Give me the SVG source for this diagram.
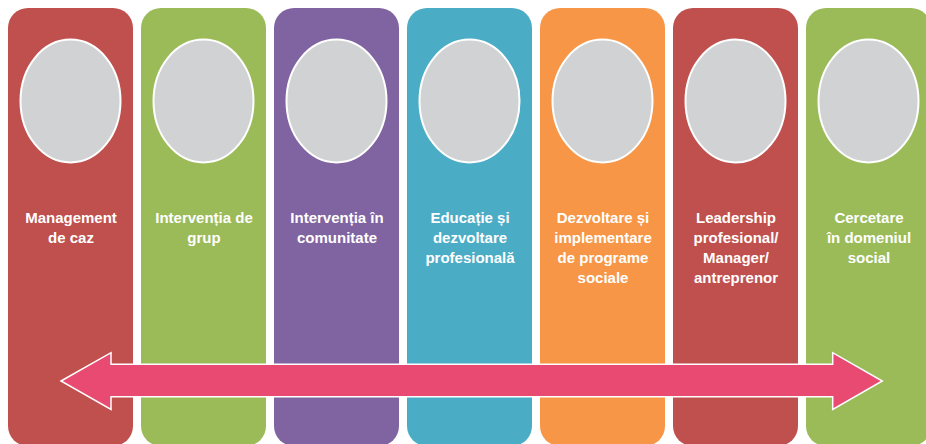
<svg xmlns="http://www.w3.org/2000/svg" width="926" height="444" viewBox="0 0 926 444">
<style>
.col{stroke:none}
.ph{fill:#D1D2D4;stroke:#FFFFFF;stroke-width:2}
.lbl{font-family:"Liberation Sans",Arial,sans-serif;font-weight:bold;font-size:15px;fill:#FFFFFF;text-anchor:middle}
</style>
<rect width="926" height="444" fill="#FFFFFF"/>
<g id="col1"><rect class="col" x="8" y="8" width="125" height="438" rx="20" fill="#C0504D"/><ellipse class="ph" cx="70.5" cy="101" rx="50" ry="61.5"/><text class="lbl" x="71" y="223">Management</text><text class="lbl" x="71" y="243">de caz</text></g>
<g id="col2"><rect class="col" x="141" y="8" width="125" height="438" rx="20" fill="#9BBB59"/><ellipse class="ph" cx="203.5" cy="101" rx="50" ry="61.5"/><text class="lbl" x="204" y="223">Intervenția de</text><text class="lbl" x="204" y="243">grup</text></g>
<g id="col3"><rect class="col" x="274" y="8" width="125" height="438" rx="20" fill="#8064A2"/><ellipse class="ph" cx="336.5" cy="101" rx="50" ry="61.5"/><text class="lbl" x="337" y="223">Intervenția în</text><text class="lbl" x="337" y="243">comunitate</text></g>
<g id="col4"><rect class="col" x="407" y="8" width="125" height="438" rx="20" fill="#4BACC6"/><ellipse class="ph" cx="469.5" cy="101" rx="50" ry="61.5"/><text class="lbl" x="470" y="223">Educație și</text><text class="lbl" x="470" y="243">dezvoltare</text><text class="lbl" x="470" y="263">profesională</text></g>
<g id="col5"><rect class="col" x="540" y="8" width="125" height="438" rx="20" fill="#F79646"/><ellipse class="ph" cx="602.5" cy="101" rx="50" ry="61.5"/><text class="lbl" x="603" y="223">Dezvoltare și</text><text class="lbl" x="603" y="243">implementare</text><text class="lbl" x="603" y="263">de programe</text><text class="lbl" x="603" y="283">sociale</text></g>
<g id="col6"><rect class="col" x="673" y="8" width="125" height="438" rx="20" fill="#C0504D"/><ellipse class="ph" cx="735.5" cy="101" rx="50" ry="61.5"/><text class="lbl" x="736" y="223">Leadership</text><text class="lbl" x="736" y="243">profesional/</text><text class="lbl" x="736" y="263">Manager/</text><text class="lbl" x="736" y="283">antreprenor</text></g>
<g id="col7"><rect class="col" x="806" y="8" width="125" height="438" rx="20" fill="#9BBB59"/><ellipse class="ph" cx="868.5" cy="101" rx="50" ry="61.5"/><text class="lbl" x="869" y="223">Cercetare</text><text class="lbl" x="869" y="243">în domeniul</text><text class="lbl" x="869" y="263">social</text></g>
<g id="connectors"><path d="M61,381 L111,352.7 L111,364.3 L832.7,364.3 L832.7,352.7 L882.3,381 L832.7,409.5 L832.7,396.7 L111,396.7 L111,409.5 Z" fill="#E84A72" stroke="#FFFFFF" stroke-width="1.5" stroke-linejoin="miter"/></g>
</svg>
